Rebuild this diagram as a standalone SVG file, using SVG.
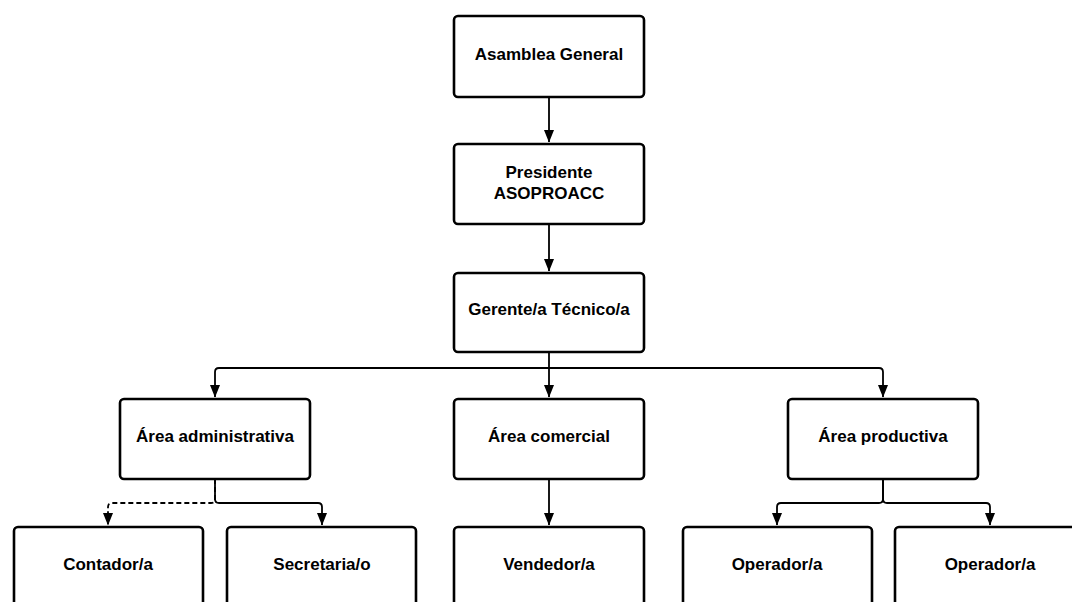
<svg xmlns="http://www.w3.org/2000/svg" width="1072" height="602" viewBox="0 0 1072 602">
  <style>
    .box { fill: #ffffff; stroke: #000000; stroke-width: 2.6; }
    .lbl { font-family: "Liberation Sans", Arial, sans-serif; font-weight: bold; font-size: 17px; fill: #000000; text-anchor: middle; }
    .conn { fill: none; stroke: #000000; stroke-width: 1.8; marker-end: url(#arrow); }
    .dashed { stroke-dasharray: 5 3; }
  </style>
  <defs>
    <marker id="arrow" markerUnits="userSpaceOnUse" markerWidth="13" markerHeight="11" viewBox="0 0 13 11" refX="12" refY="5.5" orient="auto">
      <path d="M0,0.5 L12.5,5.5 L0,10.5 Z" fill="#000000"/>
    </marker>
  </defs>
  <rect width="1072" height="602" fill="#ffffff"/>

  <!-- connectors -->
  <g id="connectors">
    <path class="conn" d="M549,97 L549,142"/>
    <path class="conn" d="M549,224 L549,271"/>
    <path class="conn" d="M549,352 L549,397"/>
    <path class="conn" d="M549,368 L219,368 Q215,368 215,372 L215,397"/>
    <path class="conn" d="M549,368 L879,368 Q883,368 883,372 L883,397"/>
    <path class="conn dashed" d="M215,479 L215,499 Q215,503 211,503 L112,503 Q108,503 108,507 L108,525"/>
    <path class="conn" d="M215,479 L215,499 Q215,503 219,503 L318,503 Q322,503 322,507 L322,525"/>
    <path class="conn" d="M549,479 L549,525"/>
    <path class="conn" d="M883,479 L883,499 Q883,503 879,503 L781,503 Q777,503 777,507 L777,525"/>
    <path class="conn" d="M883,479 L883,499 Q883,503 887,503 L986,503 Q990,503 990,507 L990,525"/>
  </g>

  <g id="asamblea">
    <rect class="box" x="454" y="16" width="190" height="81" rx="4"/>
    <text class="lbl" x="549" y="60">Asamblea General</text>
  </g>
  <g id="presidente">
    <rect class="box" x="454" y="144" width="190" height="80" rx="4"/>
    <text class="lbl" x="549" y="178">Presidente</text>
    <text class="lbl" x="549" y="199">ASOPROACC</text>
  </g>
  <g id="gerente">
    <rect class="box" x="454" y="273" width="190" height="79" rx="4"/>
    <text class="lbl" x="549" y="315">Gerente/a Técnico/a</text>
  </g>
  <g id="area-administrativa">
    <rect class="box" x="120" y="399" width="190" height="80" rx="4"/>
    <text class="lbl" x="215" y="442">Área administrativa</text>
  </g>
  <g id="area-comercial">
    <rect class="box" x="454" y="399" width="190" height="80" rx="4"/>
    <text class="lbl" x="549" y="442">Área comercial</text>
  </g>
  <g id="area-productiva">
    <rect class="box" x="788" y="399" width="190" height="80" rx="4"/>
    <text class="lbl" x="883" y="442">Área productiva</text>
  </g>
  <g id="contador">
    <rect class="box" x="14" y="527" width="189" height="90" rx="4"/>
    <text class="lbl" x="108" y="570">Contador/a</text>
  </g>
  <g id="secretaria">
    <rect class="box" x="227" y="527" width="189" height="90" rx="4"/>
    <text class="lbl" x="322" y="570">Secretaria/o</text>
  </g>
  <g id="vendedor">
    <rect class="box" x="454" y="527" width="190" height="90" rx="4"/>
    <text class="lbl" x="549" y="570">Vendedor/a</text>
  </g>
  <g id="operador-1">
    <rect class="box" x="683" y="527" width="189" height="90" rx="4"/>
    <text class="lbl" x="777" y="570">Operador/a</text>
  </g>
  <g id="operador-2">
    <rect class="box" x="895" y="527" width="190" height="90" rx="4"/>
    <text class="lbl" x="990" y="570">Operador/a</text>
  </g>
</svg>
